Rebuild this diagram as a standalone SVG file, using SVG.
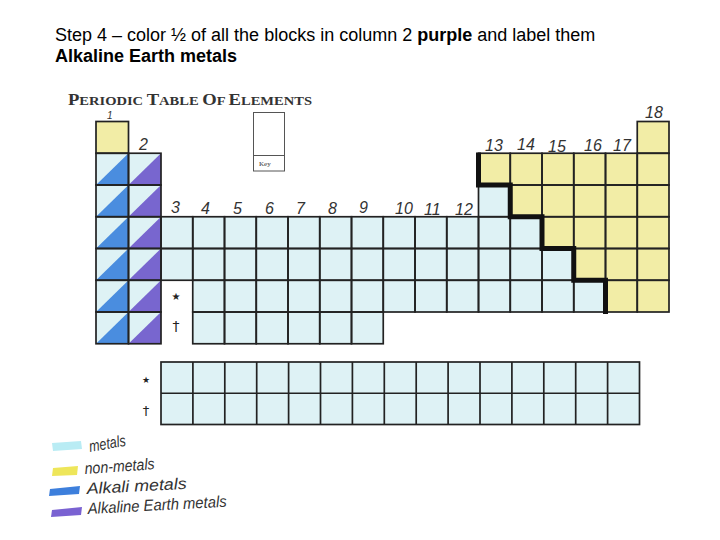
<svg xmlns="http://www.w3.org/2000/svg" xmlns:xlink="http://www.w3.org/1999/xlink" width="720" height="540" viewBox="0 0 720 540">
<style>
.hdr{font-family:"Liberation Sans",Arial,sans-serif;font-size:18px;fill:#000}
.b{font-weight:bold}
.title{font-family:"Liberation Serif","Times New Roman",serif;fill:#333;font-weight:bold}
.num{font-family:"Liberation Sans",Arial,sans-serif;font-style:italic;font-size:16px;fill:#333}
.hand{font-family:"Liberation Sans",Arial,sans-serif;font-style:italic;font-size:16px;fill:#333}
.grid{fill:none;stroke:#222;stroke-width:1.7}
.metal{fill:#def2f5}
.non{fill:#f2eda6}
.alk{fill:#4a8ddf}
.ae{fill:#7866cf}
.sym{font-family:"DejaVu Sans",sans-serif;fill:#222}
</style>
<defs>
<rect id="cell" width="31.75" height="31.75"/>
<rect id="cellw" width="32.5" height="31.75"/>
<polygon id="tri" points="0,31.75 32.5,0 32.5,31.75"/>
</defs>
<rect width="720" height="540" fill="#fff"/>

<g id="header">
<text class="hdr" x="55" y="41">Step 4 – color ½ of all the blocks in column 2 <tspan class="b">purple</tspan> and label them</text>
<text class="hdr b" x="55" y="62">Alkaline Earth metals</text>
</g>

<g id="title">
<text class="title" x="68" y="105" textLength="244" lengthAdjust="spacingAndGlyphs"><tspan font-size="16">P</tspan><tspan font-size="12.5">ERIODIC </tspan><tspan font-size="16">T</tspan><tspan font-size="12.5">ABLE </tspan><tspan font-size="16">O</tspan><tspan font-size="12.5">F </tspan><tspan font-size="16">E</tspan><tspan font-size="12.5">LEMENTS</tspan></text>
</g>

<g id="key">
<rect x="253.5" y="112.5" width="31" height="58.5" fill="#fff" stroke="#555" stroke-width="1"/>
<line x1="253.5" y1="155.5" x2="284.5" y2="155.5" stroke="#555" stroke-width="1"/>
<text x="259" y="166" font-family="Liberation Serif,serif" font-size="7" fill="#333">Key</text>
</g>

<g id="fills">
<rect class="non" x="96" y="121.5" width="32.5" height="31.75"/>
<rect class="metal" x="96" y="153.25" width="65" height="190.5"/>
<rect class="metal" x="161" y="216.75" width="317.5" height="63.5"/>
<rect class="metal" x="192.75" y="280.25" width="285.75" height="31.75"/>
<rect class="metal" x="192.75" y="312" width="190.5" height="31.75"/>
<polygon class="metal" points="478.5,185 510.25,185 510.25,216.75 542,216.75 542,248.5 573.75,248.5 573.75,280.25 605.5,280.25 605.5,312 478.5,312"/>
<polygon class="non" points="478.5,153.25 637.25,153.25 637.25,312 605.5,312 605.5,280.25 573.75,280.25 573.75,248.5 542,248.5 542,216.75 510.25,216.75 510.25,185 478.5,185"/>
<rect class="non" x="637.25" y="121.5" width="31.75" height="190.5"/>
</g>

<g id="alkali">
<use xlink:href="#tri" href="#tri" class="alk" x="96" y="153.25"/>
<use xlink:href="#tri" href="#tri" class="alk" x="96" y="185"/>
<use xlink:href="#tri" href="#tri" class="alk" x="96" y="216.75"/>
<use xlink:href="#tri" href="#tri" class="alk" x="96" y="248.5"/>
<use xlink:href="#tri" href="#tri" class="alk" x="96" y="280.25"/>
<use xlink:href="#tri" href="#tri" class="alk" x="96" y="312"/>
</g>
<g id="alkaline-earth">
<use xlink:href="#tri" href="#tri" class="ae" x="128.5" y="153.25"/>
<use xlink:href="#tri" href="#tri" class="ae" x="128.5" y="185"/>
<use xlink:href="#tri" href="#tri" class="ae" x="128.5" y="216.75"/>
<use xlink:href="#tri" href="#tri" class="ae" x="128.5" y="248.5"/>
<use xlink:href="#tri" href="#tri" class="ae" x="128.5" y="280.25"/>
<use xlink:href="#tri" href="#tri" class="ae" x="128.5" y="312"/>
</g>

<g id="grid" class="grid">
<use href="#cellw" x="96" y="121.5"/>
<use href="#cellw" x="96" y="153.25"/><use href="#cellw" x="96" y="185"/><use href="#cellw" x="96" y="216.75"/><use href="#cellw" x="96" y="248.5"/><use href="#cellw" x="96" y="280.25"/><use href="#cellw" x="96" y="312"/>
<use href="#cellw" x="128.5" y="153.25"/><use href="#cellw" x="128.5" y="185"/><use href="#cellw" x="128.5" y="216.75"/><use href="#cellw" x="128.5" y="248.5"/><use href="#cellw" x="128.5" y="280.25"/><use href="#cellw" x="128.5" y="312"/>
<use href="#cell" x="637.25" y="121.5"/>
<use href="#cell" x="478.5" y="153.25"/><use href="#cell" x="510.25" y="153.25"/><use href="#cell" x="542" y="153.25"/><use href="#cell" x="573.75" y="153.25"/><use href="#cell" x="605.5" y="153.25"/><use href="#cell" x="637.25" y="153.25"/>
<use href="#cell" x="478.5" y="185"/><use href="#cell" x="510.25" y="185"/><use href="#cell" x="542" y="185"/><use href="#cell" x="573.75" y="185"/><use href="#cell" x="605.5" y="185"/><use href="#cell" x="637.25" y="185"/>
<use href="#cell" x="161" y="216.75"/><use href="#cell" x="192.75" y="216.75"/><use href="#cell" x="224.5" y="216.75"/><use href="#cell" x="256.25" y="216.75"/><use href="#cell" x="288" y="216.75"/><use href="#cell" x="319.75" y="216.75"/><use href="#cell" x="351.5" y="216.75"/><use href="#cell" x="383.25" y="216.75"/><use href="#cell" x="415" y="216.75"/><use href="#cell" x="446.75" y="216.75"/><use href="#cell" x="478.5" y="216.75"/><use href="#cell" x="510.25" y="216.75"/><use href="#cell" x="542" y="216.75"/><use href="#cell" x="573.75" y="216.75"/><use href="#cell" x="605.5" y="216.75"/><use href="#cell" x="637.25" y="216.75"/>
<use href="#cell" x="161" y="248.5"/><use href="#cell" x="192.75" y="248.5"/><use href="#cell" x="224.5" y="248.5"/><use href="#cell" x="256.25" y="248.5"/><use href="#cell" x="288" y="248.5"/><use href="#cell" x="319.75" y="248.5"/><use href="#cell" x="351.5" y="248.5"/><use href="#cell" x="383.25" y="248.5"/><use href="#cell" x="415" y="248.5"/><use href="#cell" x="446.75" y="248.5"/><use href="#cell" x="478.5" y="248.5"/><use href="#cell" x="510.25" y="248.5"/><use href="#cell" x="542" y="248.5"/><use href="#cell" x="573.75" y="248.5"/><use href="#cell" x="605.5" y="248.5"/><use href="#cell" x="637.25" y="248.5"/>
<use href="#cell" x="192.75" y="280.25"/><use href="#cell" x="224.5" y="280.25"/><use href="#cell" x="256.25" y="280.25"/><use href="#cell" x="288" y="280.25"/><use href="#cell" x="319.75" y="280.25"/><use href="#cell" x="351.5" y="280.25"/><use href="#cell" x="383.25" y="280.25"/><use href="#cell" x="415" y="280.25"/><use href="#cell" x="446.75" y="280.25"/><use href="#cell" x="478.5" y="280.25"/><use href="#cell" x="510.25" y="280.25"/><use href="#cell" x="542" y="280.25"/><use href="#cell" x="573.75" y="280.25"/><use href="#cell" x="605.5" y="280.25"/><use href="#cell" x="637.25" y="280.25"/>
<use href="#cell" x="192.75" y="312"/><use href="#cell" x="224.5" y="312"/><use href="#cell" x="256.25" y="312"/><use href="#cell" x="288" y="312"/><use href="#cell" x="319.75" y="312"/><use href="#cell" x="351.5" y="312"/>
</g>

<g id="staircase">
<path d="M478.5,152.5 V185 H510.25 V216.75 H542 V248.5 H573.75 V280.25 H605.5 V314" fill="none" stroke="#111" stroke-width="5" stroke-linejoin="miter"/>
</g>

<g id="group-numbers" class="num">
<text x="107" y="119" font-size="10">1</text>
<text x="139" y="150">2</text>
<text x="171" y="213">3</text>
<text x="201" y="214">4</text>
<text x="233" y="214">5</text>
<text x="265" y="214">6</text>
<text x="296" y="214">7</text>
<text x="328" y="214">8</text>
<text x="359" y="213">9</text>
<text x="395" y="214">10</text>
<text x="424" y="215">11</text>
<text x="455" y="215">12</text>
<text x="485" y="151">13</text>
<text x="517" y="150">14</text>
<text x="548" y="152">15</text>
<text x="584" y="151">16</text>
<text x="613" y="151">17</text>
<text x="645" y="118">18</text>
</g>

<g id="series-markers">
<text class="sym" x="176" y="300" font-size="10" text-anchor="middle">★</text>
<text class="sym" x="176" y="331" font-size="14" text-anchor="middle">†</text>
<text class="sym" x="146" y="383" font-size="9" text-anchor="middle">★</text>
<text class="sym" x="146" y="415" font-size="13" text-anchor="middle">†</text>
</g>

<g id="lower-table">
<rect class="metal" x="161" y="362" width="478.5" height="62.5"/>
<g class="grid">
<rect x="161" y="362" width="478.5" height="62.5"/>
<line x1="161" y1="393.25" x2="639.5" y2="393.25"/>
<path d="M192.9,362V424.5M224.8,362V424.5M256.7,362V424.5M288.6,362V424.5M320.5,362V424.5M352.4,362V424.5M384.3,362V424.5M416.2,362V424.5M448.1,362V424.5M480,362V424.5M511.9,362V424.5M543.8,362V424.5M575.7,362V424.5M607.6,362V424.5"/>
</g>
</g>

<g id="legend">
<path d="M52,443 L81,441 L82,449 L53,451 Z" fill="#b9ecf4"/>
<path d="M53,468 L78,466 L77,475 L52,476 Z" fill="#eee65a"/>
<path d="M50,489 L80,486 L79,494 L49,496 Z" fill="#3d7fdc"/>
<path d="M52,510 L82,507 L81,515 L51,517 Z" fill="#7a62d2"/>
<text class="hand" x="90" y="452" transform="rotate(-10 90 452)" textLength="37" lengthAdjust="spacingAndGlyphs">metals</text>
<text class="hand" x="85" y="474" transform="rotate(-4 85 474)" textLength="70" lengthAdjust="spacingAndGlyphs">non-metals</text>
<text class="hand" x="87" y="494" transform="rotate(-3 87 494)" textLength="100" lengthAdjust="spacingAndGlyphs">Alkali metals</text>
<text class="hand" x="88" y="514" transform="rotate(-3 88 514)" textLength="139" lengthAdjust="spacingAndGlyphs">Alkaline Earth metals</text>
</g>
</svg>
